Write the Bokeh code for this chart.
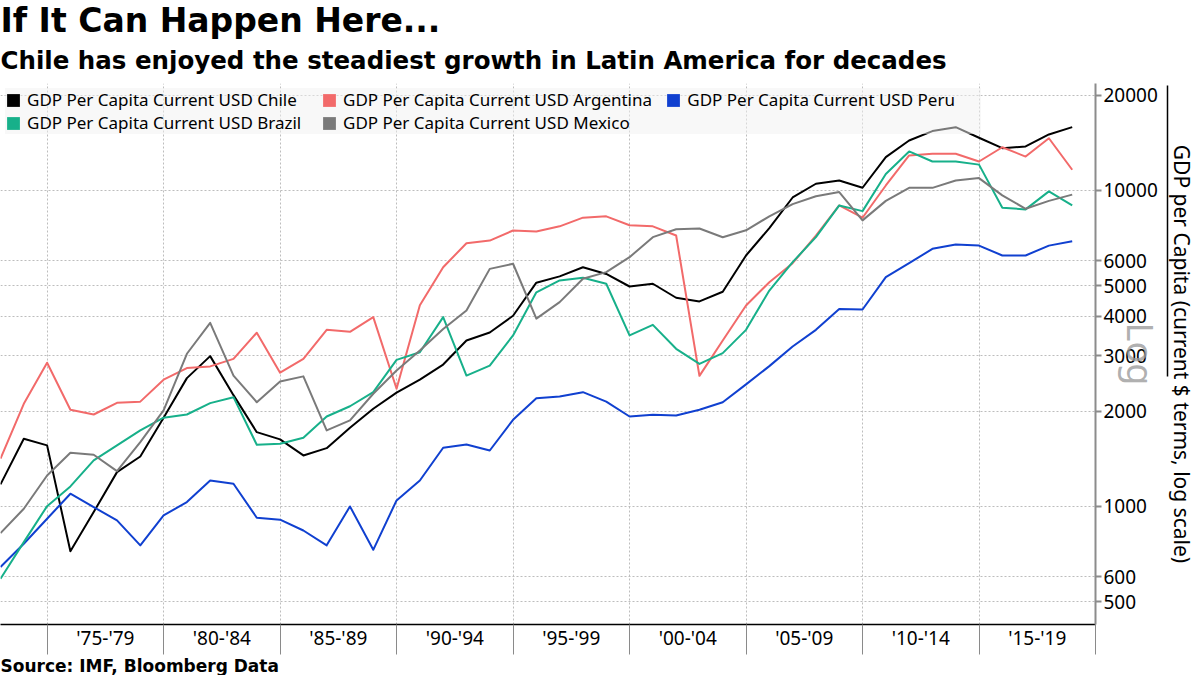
from bokeh.plotting import figure
from bokeh.models import (Range1d, FixedTicker, Legend, LegendItem, Title,
                          PrintfTickFormatter, LinearAxis)
from bokeh.embed import file_html
from bokeh.resources import INLINE

# ---------------- data (IMF, GDP per capita, current USD) ----------------
years = list(range(1972, 2019))

chile = [1174, 1637, 1560, 721, 960, 1284, 1439, 1909, 2547, 2990,
         2250, 1718, 1630, 1450, 1529, 1774, 2038, 2291, 2518, 2812,
         3350, 3553, 4013, 5107, 5346, 5716, 5443, 4966, 5067, 4575,
         4454, 4780, 6225, 7600, 9500, 10500, 10755, 10197, 12747, 14390,
         15410, 15860, 14680, 13610, 13780, 15040, 15860]
argentina = [1416, 2113, 2850, 2023, 1954, 2128, 2146, 2518, 2740, 2774,
             2931, 3546, 2650, 2931, 3623, 3570, 3974, 2358, 4330, 5716,
             6806, 6940, 7470, 7410, 7700, 8200, 8280, 7760, 7700, 7200,
             2590, 3350, 4326, 5124, 5886, 7190, 8966, 8198, 10370, 12910,
             13070, 13070, 12350, 13700, 12800, 14630, 11630]
peru = [643, 762, 914, 1097, 995, 903, 753, 937, 1032, 1208,
        1180, 921, 908, 839, 753, 1000, 729, 1045, 1208, 1534,
        1571, 1503, 1880, 2200, 2227, 2299, 2146, 1926, 1951, 1940,
        2022, 2137, 2433, 2780, 3207, 3621, 4218, 4200, 5318, 5886,
        6534, 6740, 6690, 6225, 6225, 6690, 6907]
brazil = [590, 771, 1002, 1157, 1398, 1560, 1740, 1909, 1954, 2123,
          2217, 1568, 1579, 1650, 1926, 2075, 2299, 2910, 3077, 3974,
          2595, 2791, 3476, 4760, 5190, 5296, 5067, 3476, 3756, 3154,
          2826, 3056, 3621, 4822, 5931, 7114, 8966, 8600, 11270, 13290,
          12350, 12350, 12070, 8820, 8710, 9930, 8966]
mexico = [823, 983, 1253, 1479, 1457, 1293, 1597, 2013, 3042, 3812,
          2595, 2137, 2486, 2580, 1740, 1872, 2273, 2692, 3114, 3641,
          4172, 5647, 5861, 3928, 4431, 5256, 5516, 6148, 7114, 7540,
          7580, 7110, 7480, 8280, 9050, 9590, 9880, 8040, 9269, 10190,
          10190, 10755, 10940, 9650, 8750, 9270, 9700]

period_labels = ["'75-'79", "'80-'84", "'85-'89", "'90-'94", "'95-'99",
                 "'00-'04", "'05-'09", "'10-'14", "'15-'19"]
period_starts = [1975, 1980, 1985, 1990, 1995, 2000, 2005, 2010, 2015]
y_ticks = [500, 600, 1000, 2000, 3000, 4000, 5000, 6000, 10000, 20000]

series_names = ["Chile", "Argentina", "Peru", "Brazil", "Mexico"]
series_values = [chile, argentina, peru, brazil, mexico]
series_colors = ["#000000", "#f26a6a", "#1040d0", "#17b08a", "#7a7a7a"]

title_text = "If It Can Happen Here..."
subtitle_text = "Chile has enjoyed the steadiest growth in Latin America for decades"
source_text = "Source: IMF, Bloomberg Data"
ylabel_text = "GDP per Capita (current $ terms, log scale)"
legend_prefix = "GDP Per Capita Current USD "

# each annual value is plotted at its year-end date
x_pos = [yr + 1 for yr in years]
period_bounds = period_starts + [period_starts[-1] + 5]
period_centers = [s + 2.5 for s in period_starts]

# ---------------- figure ----------------
p = figure(width=1200, height=675, output_backend="svg", toolbar_location=None,
           title=None, y_axis_type="log", y_axis_location="right",
           x_range=Range1d(1973.0, 2020.0), y_range=Range1d(423, 21800),
           min_border_left=0, min_border_right=105, min_border_top=83,
           min_border_bottom=51)
p.outline_line_color = None
p.background_fill_color = "white"
p.border_fill_color = "white"

# titles (first added sits closest to the plot)
p.add_layout(Title(text=subtitle_text, text_font="DejaVu Sans",
                   text_font_style="bold", text_font_size="24.5px",
                   text_color="#000000", align="left", offset=0, standoff=17),
             "above")
p.add_layout(Title(text=title_text, text_font="DejaVu Sans",
                   text_font_style="bold", text_font_size="33px",
                   text_color="#000000", align="left", offset=0, standoff=-8),
             "above")

# grids
p.xgrid[0].ticker = FixedTicker(ticks=period_bounds)
p.ygrid[0].ticker = FixedTicker(ticks=y_ticks)
for g in (p.xgrid[0], p.ygrid[0]):
    g.grid_line_color = "#bdbdbd"
    g.grid_line_dash = "2 2"
    g.grid_line_width = 1

# x axis: labels centred in each 5-year period, boundary marks as minor ticks
xa = p.xaxis[0]
xa.ticker = FixedTicker(ticks=period_centers, minor_ticks=period_bounds)
xa.major_label_overrides = {c: lab for c, lab in zip(period_centers, period_labels)}
xa.major_tick_out = 0
xa.major_tick_in = 0
xa.minor_tick_out = 30
xa.minor_tick_in = 0
xa.minor_tick_line_color = "#8a8a8a"
xa.minor_tick_line_width = 1
xa.axis_line_color = "#000000"
xa.axis_line_width = 1.5
xa.major_label_text_font = "Noto Sans"
xa.major_label_text_font_size = "19px"
xa.major_label_text_color = "#000000"
xa.major_label_standoff = -30

# source line under the axis
p.add_layout(Title(text=source_text, text_font="DejaVu Sans",
                   text_font_style="bold", text_font_size="17px",
                   text_color="#000000", align="left", offset=0, standoff=0),
             "below")

# y axis (right, log) with the faint "Log" tag as its label
ya = p.yaxis[0]
ya.ticker = FixedTicker(ticks=y_ticks)
ya.formatter = PrintfTickFormatter(format="%d")
ya.axis_line_color = "#8c8c8c"
ya.axis_line_width = 2
ya.major_tick_out = 6
ya.major_tick_in = 0
ya.major_tick_line_color = "#8c8c8c"
ya.major_tick_line_width = 2
ya.minor_tick_line_color = None
ya.major_label_text_font = "Noto Sans"
ya.major_label_text_font_size = "19px"
ya.major_label_text_color = "#000000"
ya.major_label_standoff = 2
ya.axis_label = "Log"
ya.axis_label_text_font = "Noto Sans"
ya.axis_label_text_font_style = "normal"
ya.axis_label_text_font_size = "36px"
ya.axis_label_text_color = "#9a9a9a"
ya.axis_label_text_alpha = 0.8
ya.axis_label_standoff = -45

# outer title axis: its line is the underline of the axis title
p.extra_y_ranges = {"ul": Range1d(0, 541)}
ax2 = LinearAxis(y_range_name="ul", ticker=FixedTicker(ticks=[]),
                 bounds=(18, 530), axis_line_color="#000000", axis_line_width=1.5,
                 major_tick_out=0, major_tick_in=0, minor_tick_out=0, minor_tick_in=0,
                 axis_label=ylabel_text, axis_label_text_font="Noto Sans",
                 axis_label_text_font_style="normal", axis_label_text_font_size="21px",
                 axis_label_text_color="#000000", axis_label_standoff=0)
p.add_layout(ax2, "right")

# lines
for vals, col in zip(series_values, series_colors):
    p.line(x_pos, vals, line_color=col, line_width=2, line_join="round")

# legend swatches (square): off-range quads used only for the legend glyphs
items = []
for name, col in zip(series_names, series_colors):
    r = p.quad(left=[1900], right=[1901], top=[1000], bottom=[900],
               fill_color=col, line_color=None)
    label = legend_prefix + name
    if name == "Argentina":
        label = label + "\u00a0" * 3   # widen the middle legend column
    items.append(LegendItem(label=label, renderers=[r]))
legend = Legend(items=items, location="top_left", orientation="horizontal", ncols=3,
                background_fill_color="#f2f2f2", background_fill_alpha=0.5,
                border_line_color=None, label_text_font="Noto Sans",
                label_text_font_size="17px", label_text_color="#000000",
                glyph_width=16, glyph_height=16, label_standoff=6, spacing=0,
                padding=8, margin=5, label_height=22, label_width=294)
p.add_layout(legend)

open("out.html", "w").write(file_html(p, INLINE))
